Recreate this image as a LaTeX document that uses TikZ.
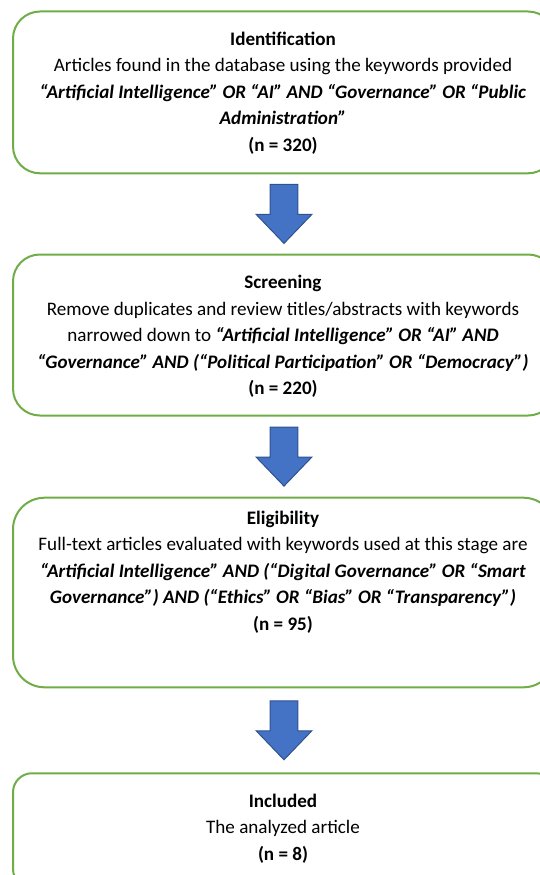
\documentclass[tikz,border=0pt]{standalone}
\usepackage{fontspec}
\setmainfont{Carlito}
\usetikzlibrary{calc}
\definecolor{boxgreen}{HTML}{70AD47}
\definecolor{arrowblue}{HTML}{4472C4}
\definecolor{arrowedge}{HTML}{2F528F}
\tikzset{
  stagebox/.style={draw=boxgreen, line width=2pt, fill=white, inner sep=0pt, minimum width=542pt},
  stagetext/.style={align=center, inner sep=0pt, font=\fontsize{19.1}{26.6}\selectfont, text=black},
  downarrow/.pic={
    \draw[fill=arrowblue, draw=arrowedge, line width=1pt, line join=miter]
      (-13.85,-29.5) -- (13.85,-29.5) -- (13.85,0.5) -- (27.85,0.5) -- (0,29.5)
      -- (-27.85,0.5) -- (-13.85,0.5) -- cycle;
  }
}
\newcommand{\kw}[1]{\textbf{\textit{#1}}}
\begin{document}
\begin{tikzpicture}[x=1pt, y=-1pt]
\useasboundingbox (0,0) rectangle (539,875);

\node[stagebox, minimum height=161.8pt, rounded corners=27pt] (b1) at (284,92.4) {};
\node[stagebox, minimum height=161pt, rounded corners=26.8pt] (b2) at (284,335) {};
\node[stagebox, minimum height=189.6pt, rounded corners=31.6pt] (b3) at (284,592.5) {};
\node[stagebox, minimum height=114.7pt, rounded corners=19pt] (b4) at (284,830.6) {};

\node[stagetext] (t1) at (283,93) {\textbf{Identification}\\
Articles found in the database using the keywords provided\\
\kw{“Artificial Intelligence” OR “AI” AND “Governance” OR “Public}\\
\kw{Administration”}\\
\textbf{(n = 320)}};

\node[stagetext] (t2) at (283,336.5) {\textbf{Screening}\\
Remove duplicates and review titles/abstracts with keywords\\
narrowed down to \kw{“Artificial Intelligence” OR “AI” AND}\\
\kw{“Governance” AND (“Political Participation” OR “Democracy”)}\\
\textbf{(n = 220)}};

\node[stagetext] (t3) at (283,572) {\textbf{Eligibility}\\
Full-text articles evaluated with keywords used at this stage are\\
\kw{“Artificial Intelligence” AND (“Digital Governance” OR “Smart}\\
\kw{Governance”) AND (“Ethics” OR “Bias” OR “Transparency”)}\\
\textbf{(n = 95)}};

\node[stagetext] (t4) at (283,828.5) {\textbf{Included}\\
The analyzed article\\
\textbf{(n = 8)}};

\coordinate (m1) at ($(b1.south)!0.5!(b2.north)$);
\coordinate (m2) at ($(b2.south)!0.5!(b3.north)$);
\coordinate (m3) at ($(b3.south)!0.5!(b4.north)$);
\pic at (m1) {downarrow};
\pic at (m2) {downarrow};
\pic at (m3) {downarrow};
\end{tikzpicture}
\end{document}
